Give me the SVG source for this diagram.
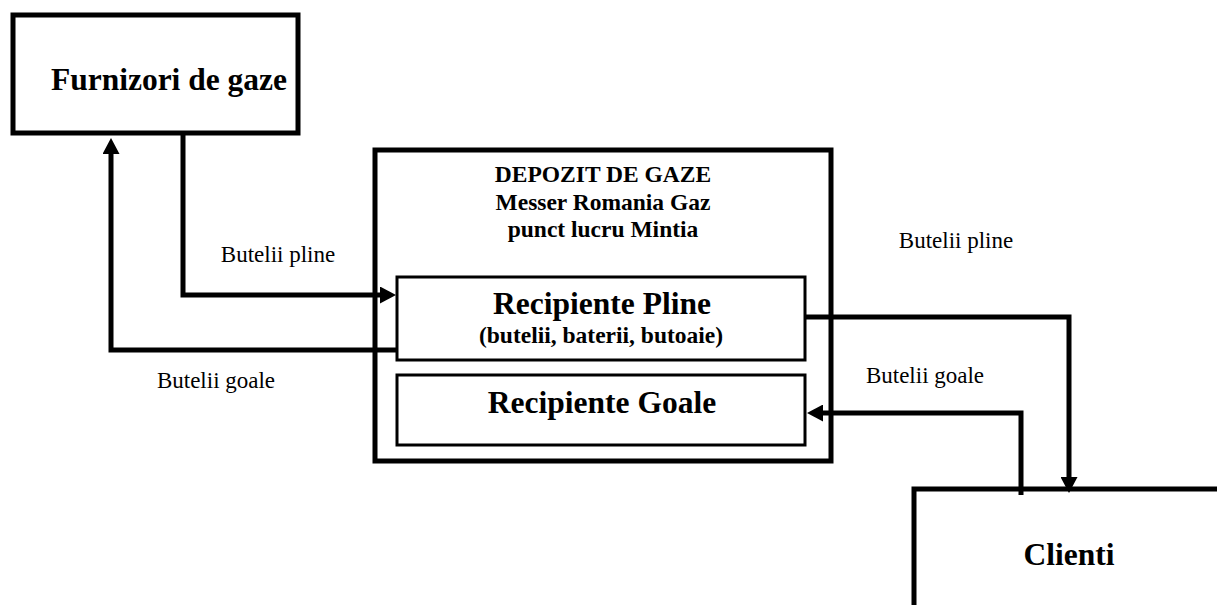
<svg xmlns="http://www.w3.org/2000/svg" width="1217" height="605" viewBox="0 0 1217 605">
<style>
.box{fill:#fff;stroke:#000;stroke-width:5}
.inner{fill:#fff;stroke:#000;stroke-width:3}
.conn{fill:none;stroke:#000;stroke-width:5;stroke-linejoin:miter}
.t{font-family:"Liberation Serif","Times New Roman",serif;fill:#000}
.b{font-weight:bold}
.big{font-size:31.5px}
.mid{font-size:23.5px}
.lbl{font-size:23px}
</style>
<defs>
<marker id="ah" markerUnits="userSpaceOnUse" markerWidth="16" markerHeight="17" refX="8" refY="8.5" orient="auto">
<path d="M0,0 L16,8.5 L0,17 z" fill="#000"/>
</marker>
</defs>
<rect width="1217" height="605" fill="#fff"/>
<g id="furnizori">
<rect class="box" x="13" y="15" width="285" height="118"/>
<text class="t b big" x="169" y="90" text-anchor="middle">Furnizori de gaze</text>
</g>
<g id="depozit">
<rect class="box" x="375" y="150" width="456" height="311"/>
<text class="t b mid" x="603" y="182" text-anchor="middle">DEPOZIT DE GAZE</text>
<text class="t b mid" x="603" y="210" text-anchor="middle">Messer Romania Gaz</text>
<text class="t b mid" x="603" y="237" text-anchor="middle">punct lucru Mintia</text>
</g>
<g id="recipiente-pline">
<rect class="inner" x="397" y="277" width="408" height="83"/>
<text class="t b big" x="602" y="314" text-anchor="middle">Recipiente Pline</text>
<text class="t b mid" x="601" y="343" text-anchor="middle">(butelii, baterii, butoaie)</text>
</g>
<g id="recipiente-goale">
<rect class="inner" x="397" y="375" width="408" height="70"/>
<text class="t b big" x="602" y="413" text-anchor="middle">Recipiente Goale</text>
</g>
<g id="clienti">
<path class="box" d="M914,610 V489 H1222"/>
<text class="t b big" x="1069" y="565" text-anchor="middle">Clienti</text>
</g>
<g id="connectors">
<path class="conn" d="M183,133 V295 H388" marker-end="url(#ah)"/>
<path class="conn" d="M397,350 H111 V146" marker-end="url(#ah)"/>
<path class="conn" d="M805,317 H1069 V485" marker-end="url(#ah)"/>
<path class="conn" d="M1021,495 V413 H815" marker-end="url(#ah)"/>
<text class="t lbl" x="278" y="262" text-anchor="middle">Butelii pline</text>
<text class="t lbl" x="216" y="388" text-anchor="middle">Butelii goale</text>
<text class="t lbl" x="956" y="248" text-anchor="middle">Butelii pline</text>
<text class="t lbl" x="925" y="383" text-anchor="middle">Butelii goale</text>
</g>
</svg>
